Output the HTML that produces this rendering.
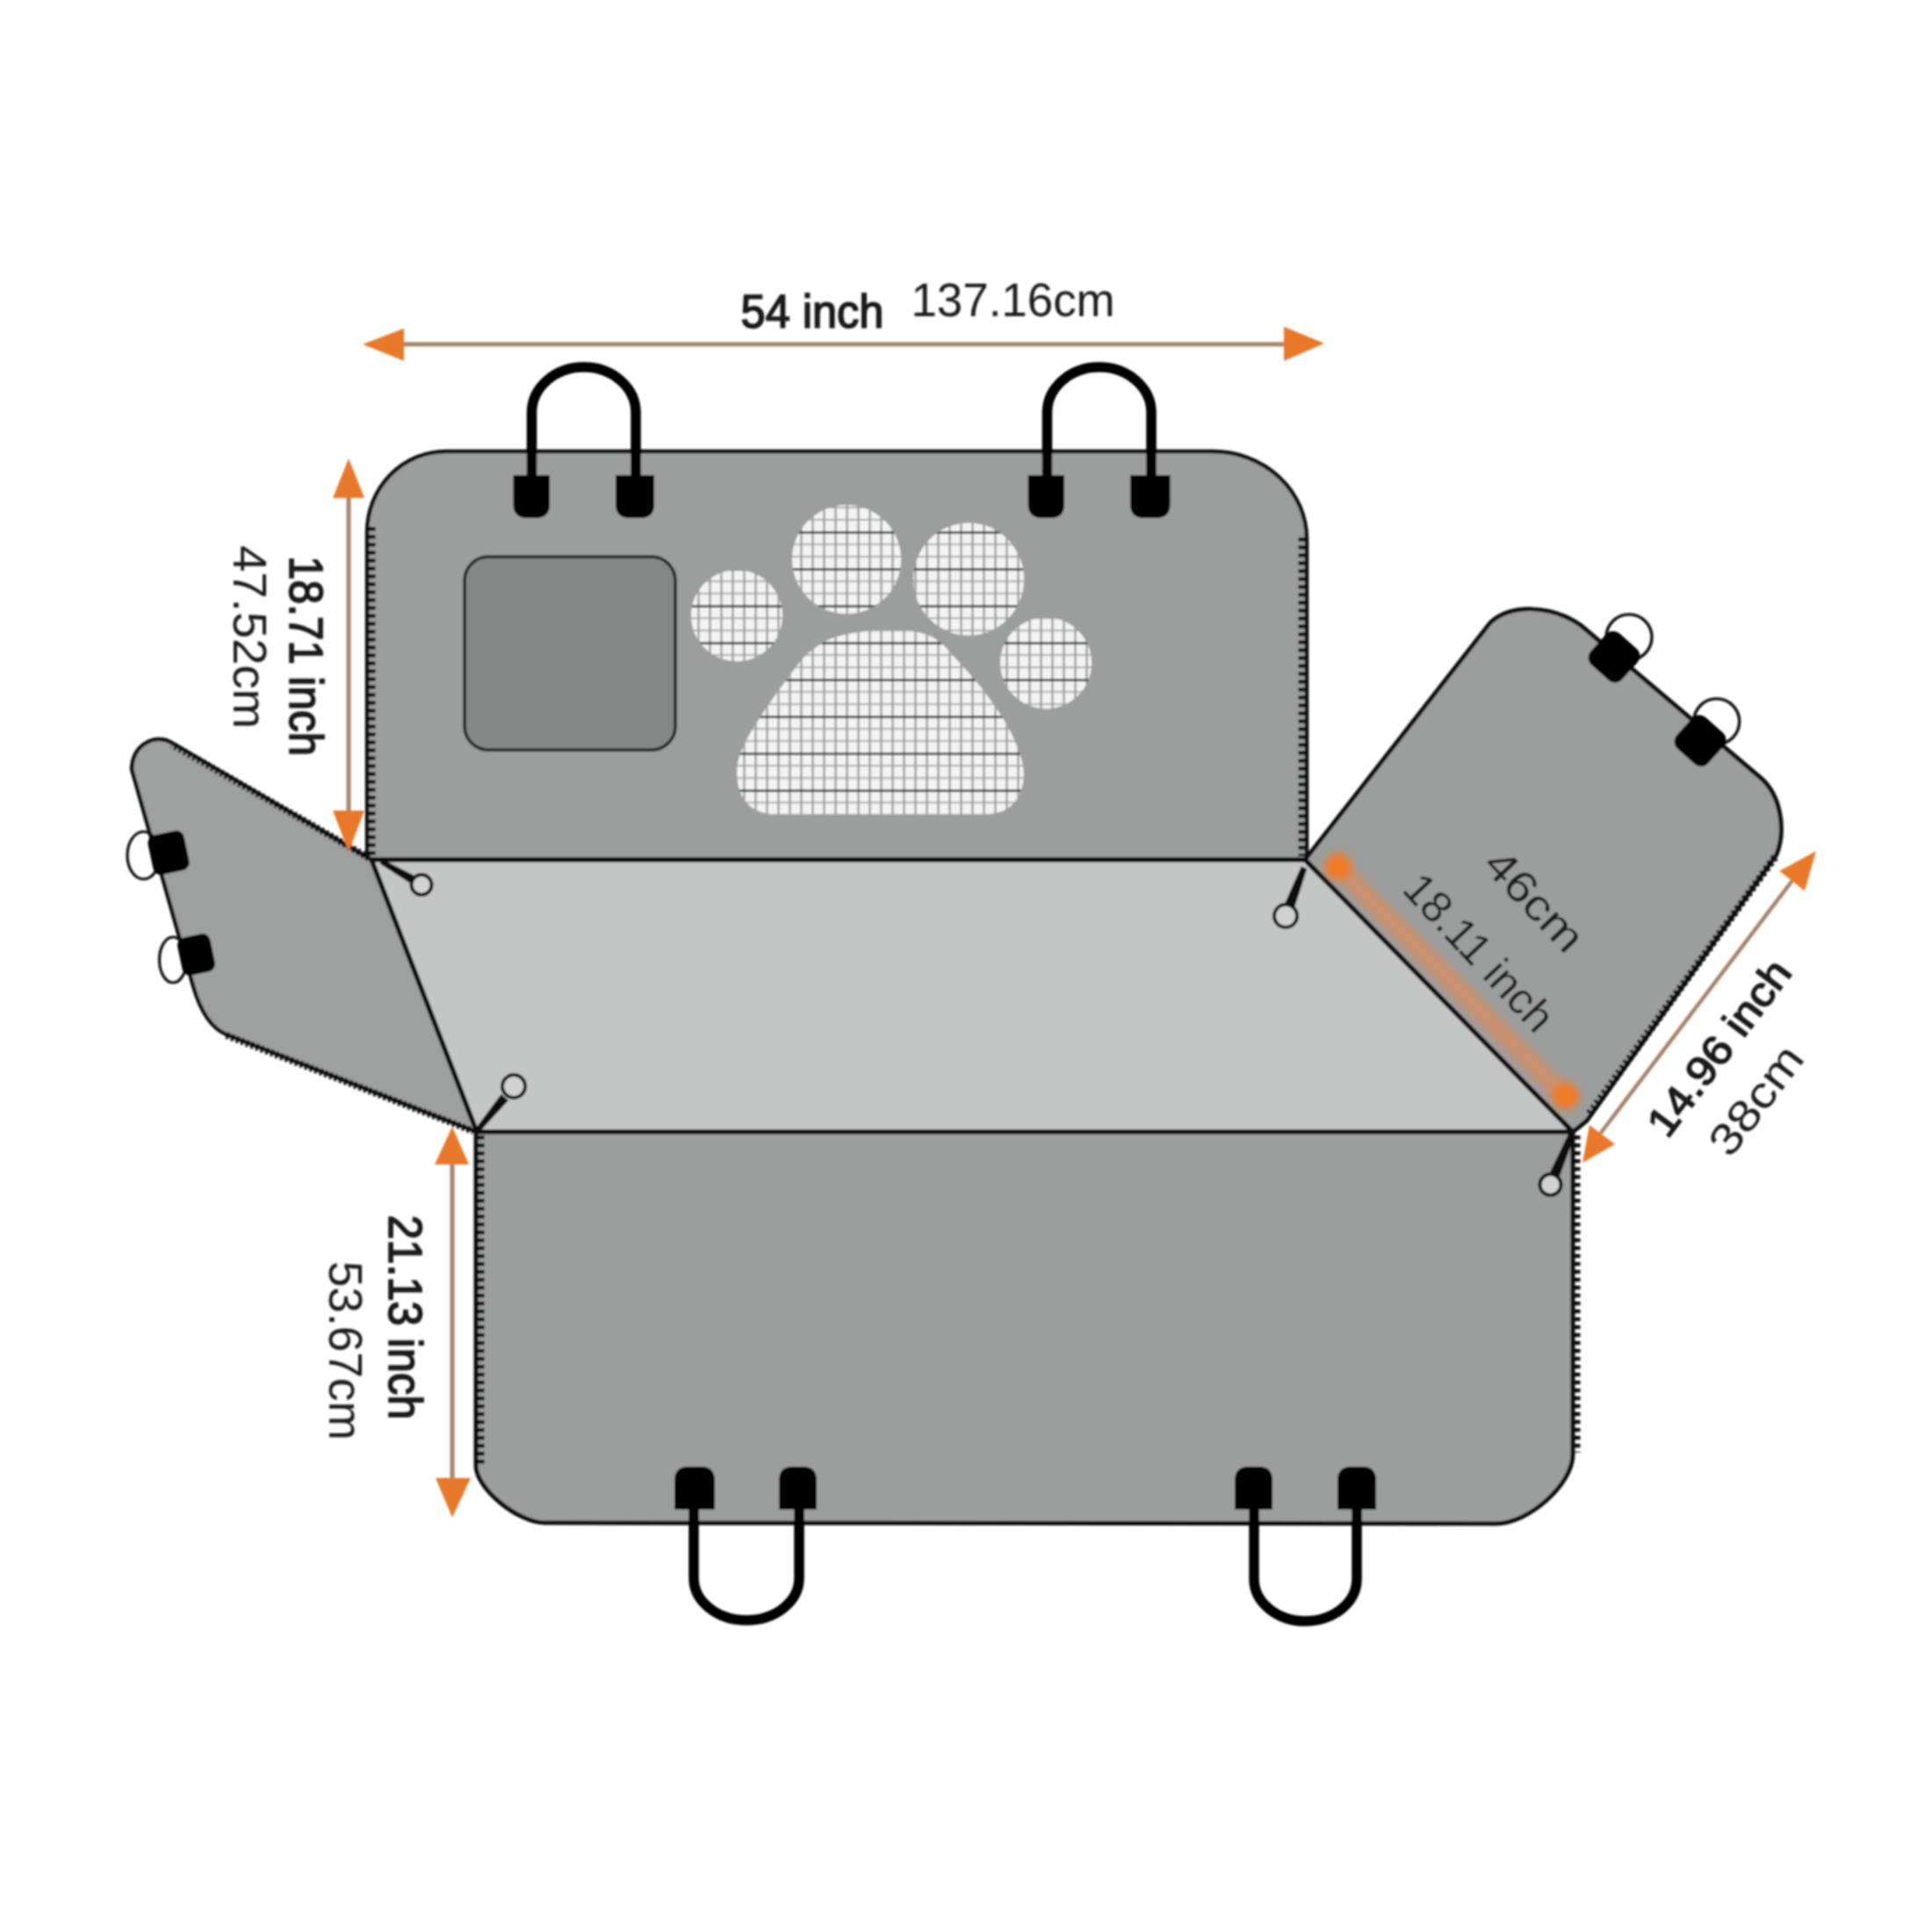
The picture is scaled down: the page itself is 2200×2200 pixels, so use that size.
<!DOCTYPE html>
<html><head><meta charset="utf-8">
<style>
html,body{margin:0;padding:0;background:#fff;}
body{width:2200px;height:2200px;overflow:hidden;}
svg{display:block;}
text{font-family:"Liberation Sans",sans-serif;fill:#1a1a1a;}
</style></head>
<body>
<svg width="2200" height="2200" viewBox="0 0 2200 2200">
<defs>
  <pattern id="mesh" patternUnits="userSpaceOnUse" x="885.6" y="563" width="13" height="42">
    <rect width="13" height="42" fill="#f3f3f3"/>
    <rect x="0" y="0" width="1.6" height="42" fill="#707070"/>
    <rect x="0" y="14" width="13" height="1.6" fill="#9a9a9a"/>
    <rect x="0" y="28" width="13" height="1.6" fill="#9a9a9a"/>
    <rect x="0" y="0" width="13" height="2.6" fill="#2e2e2e"/>
  </pattern>
  <filter id="blur2" x="-50%" y="-50%" width="200%" height="200%"><feGaussianBlur stdDeviation="4"/></filter>
  <filter id="soft" x="-10%" y="-10%" width="120%" height="120%"><feGaussianBlur stdDeviation="0.9"/></filter>
</defs>
<rect width="2200" height="2200" fill="#fff"/>
<g filter="url(#soft)">

<!-- top arrow -->
<line x1="455" y1="392" x2="1465" y2="392" stroke="#a6846a" stroke-width="5"/>
<polygon points="413,392 460,374 460,411" fill="#e8782a"/>
<polygon points="1508,391 1462,372 1462,411" fill="#e8782a"/>

<!-- top panel -->
<path d="M418 979 L418 606 A90 92 0 0 1 508 514 L1381 514 A107 100 0 0 1 1488 614 L1488 979 Z" fill="#9c9d9d" stroke="#111" stroke-width="4.5"/>

<!-- window -->
<rect x="529" y="634" width="240" height="220" rx="27" fill="#858686" stroke="#222" stroke-width="3.5"/>

<!-- paw -->
<g fill="url(#mesh)">
  <circle cx="839" cy="701" r="52"/>
  <circle cx="964" cy="637" r="62"/>
  <ellipse cx="1103" cy="659.5" rx="63" ry="64"/>
  <circle cx="1191" cy="755" r="52"/>
  <path d="M939 731 C955 720 1010 714 1041 719 C1058 722 1068 728 1075 735 L1103 766 C1120 785 1140 813 1148 828 C1162 855 1168 875 1165 890 C1162 912 1148 926 1125 927 L880 927 C858 926 843 913 840 890 C837 872 842 858 850 843 C862 820 885 788 909 756 C920 742 930 736 939 731 Z"/>
</g>

<!-- left flap -->
<path d="M423 979 L194 845 C178 836 151 846 150 876 L220 1123 Q233 1168 258 1178 L543 1289 Z" fill="#9e9f9f" stroke="#111" stroke-width="4.5" stroke-linejoin="round"/>

<!-- right flap -->
<path d="M1486 979 L1697 709 C1720 688 1765 688 1800 712 L2004 885 C2028 905 2034 945 2023 973 L1807 1276 L1791 1289 Z" fill="#9c9d9d" stroke="#111" stroke-width="5" stroke-linejoin="round"/>

<!-- middle -->
<path d="M423 979 L1486 979 L1791 1289 L543 1289 Z" fill="#c4c5c5" stroke="#111" stroke-width="5.5" stroke-linejoin="round"/>

<!-- bottom panel -->
<path d="M542 1289 L1791 1289 L1791 1656 C1791 1690 1741 1735 1703 1735 L621 1734 C589.6 1734 542 1695 542 1669 Z" fill="#9c9d9d" stroke="#111" stroke-width="5"/>

<!-- zipper teeth -->
<g fill="none" stroke="#111" stroke-width="9" stroke-dasharray="4.5 4.5">
  <path d="M423 600 L423 975"/>
  <path d="M1483 612 L1483 975"/>
  <path d="M547 1293 L547 1668"/>
  <path d="M1795 1293 L1795 1654"/>
  <path d="M420 977 L196 848" stroke-width="8" stroke-dasharray="3 3"/>
  <path d="M258 1179 L539 1288" stroke-width="8" stroke-dasharray="3 3"/>
  <path d="M2021 976 L1808 1271" stroke-width="9" stroke-dasharray="3.5 3.5"/>
</g>

<!-- orange fold band -->
<line x1="1517" y1="980" x2="1787" y2="1254" stroke="#e88a50" stroke-opacity="0.6" stroke-width="22" filter="url(#blur2)"/>
<g filter="url(#blur2)">
  <circle cx="1524" cy="987" r="15" fill="#f07a28"/>
  <circle cx="1783" cy="1248" r="15" fill="#f07a28"/>
</g>

<!-- handles top -->
<g fill="none" stroke="#000" stroke-width="11.5">
  <path d="M605.5 545 L605.5 470 A59.25 52 0 0 1 724 470 L724 545"/>
  <path d="M1192.4 545 L1192.4 470 A59.3 52 0 0 1 1311 470 L1311 545"/>
</g>
<g fill="#000">
  <path d="M584.5 541 H626 V574 Q626 590 610 590 H600.5 Q584.5 590 584.5 574 Z"/>
  <path d="M701 541 H745 V574 Q745 590 729 590 H717 Q701 590 701 574 Z"/>
  <path d="M1170.7 541 H1212 V574 Q1212 590 1196 590 H1186.7 Q1170.7 590 1170.7 574 Z"/>
  <path d="M1287 541 H1332.5 V574 Q1332.5 590 1316.5 590 H1303 Q1287 590 1287 574 Z"/>
</g>

<!-- handles bottom -->
<g fill="none" stroke="#000" stroke-width="11.5">
  <path d="M790 1715 L790 1797 A60 48 0 0 0 910 1797 L910 1715"/>
  <path d="M1428 1715 L1428 1798 A58.5 48 0 0 0 1545 1798 L1545 1715"/>
</g>
<g fill="#000">
  <path d="M768 1719 V1686 Q768 1670 784 1670 H798 Q814 1670 814 1686 V1719 Z"/>
  <path d="M887 1719 V1686 Q887 1670 903 1670 H914 Q930 1670 930 1686 V1719 Z"/>
  <path d="M1406 1719 V1686 Q1406 1670 1422 1670 H1433 Q1449 1670 1449 1686 V1719 Z"/>
  <path d="M1523 1719 V1686 Q1523 1670 1539 1670 H1551 Q1567 1670 1567 1686 V1719 Z"/>
</g>

<!-- left vertical arrows -->
<line x1="397" y1="560" x2="397" y2="930" stroke="#a6846a" stroke-width="5"/>
<polygon points="397,522 379,567 415,567" fill="#e8782a"/>
<polygon points="397,970 379,923 415,923" fill="#e8782a"/>
<line x1="515" y1="1320" x2="515" y2="1690" stroke="#a6846a" stroke-width="5"/>
<polygon points="515,1283 495,1326 534,1326" fill="#e8782a"/>
<polygon points="515,1728 496,1683 536,1683" fill="#e8782a"/>

<!-- right diagonal arrow -->
<line x1="2040.7" y1="1003" x2="1822.5" y2="1290.5" stroke="#a6846a" stroke-width="4.5"/>
<polygon points="2068,969 2026.4,991.8 2055,1014.5" fill="#e8782a"/>
<polygon points="1802,1324 1810,1281 1839,1303" fill="#e8782a"/>

<!-- left flap D-rings -->
<g fill="none" stroke="#111" stroke-width="3.2">
  <ellipse cx="163.5" cy="974" rx="18.5" ry="27"/>
  <ellipse cx="197" cy="1093" rx="15.5" ry="26"/>
</g>
<g fill="#000">
  <rect x="-21" y="-23" width="42" height="46" rx="9" transform="translate(192 971) rotate(-12)"/>
  <rect x="-19" y="-22" width="38" height="44" rx="9" transform="translate(223.5 1087) rotate(-12)"/>
</g>

<!-- right flap D-rings -->
<g fill="none" stroke="#111" stroke-width="3.4">
  <circle cx="1855" cy="725.6" r="26"/>
  <circle cx="1954.7" cy="821.6" r="26"/>
</g>
<g fill="#000">
  <rect x="-24" y="-24" width="48" height="48" rx="11" transform="translate(1838 748) rotate(42)"/>
  <rect x="-24" y="-24" width="48" height="48" rx="11" transform="translate(1936 843.5) rotate(42)"/>
</g>

<!-- zipper pulls -->
<g fill="#111">
  <path d="M435.5 978.4 L471.2 996.7 L466.2 1005.3 L432.5 983.6 Z"/>
  <path d="M540.7 1286.1 L570.6 1245.9 L579 1252.9 L545.3 1289.9 Z"/>
  <path d="M1481.7 986.8 L1488.3 989.2 L1474.6 1032.1 L1463.4 1027.9 Z"/>
  <path d="M1786.8 1289.6 L1793.2 1292.4 L1776 1339.3 L1765 1334.7 Z"/>
</g>
<g fill="#d2d2d2" stroke="#111" stroke-width="4">
  <circle cx="480" cy="1007.5" r="11.5"/>
  <circle cx="585" cy="1237" r="13"/>
  <circle cx="1464" cy="1043" r="13"/>
  <circle cx="1765.5" cy="1349" r="12"/>
</g>

<!-- texts -->
<text x="843.6" y="373.3" font-size="53" stroke="#1a1a1a" stroke-width="1.7" textLength="162.7" lengthAdjust="spacingAndGlyphs">54 inch</text>
<text x="1037.4" y="359.6" font-size="54" textLength="232.3" lengthAdjust="spacingAndGlyphs">137.16cm</text>
<text transform="translate(330 633) rotate(90)" font-size="53" stroke="#1a1a1a" stroke-width="1.7" textLength="228" lengthAdjust="spacingAndGlyphs">18.71 inch</text>
<text transform="translate(266 621) rotate(90)" font-size="53" textLength="209" lengthAdjust="spacingAndGlyphs">47.52cm</text>
<text transform="translate(443 1383.5) rotate(90)" font-size="53" stroke="#1a1a1a" stroke-width="1.7" textLength="233" lengthAdjust="spacingAndGlyphs">21.13 inch</text>
<text transform="translate(375 1436) rotate(90)" font-size="53" textLength="204" lengthAdjust="spacingAndGlyphs">53.67cm</text>
<text transform="translate(1748 1025) rotate(46.5)" font-size="50" text-anchor="middle" dy="18" textLength="140" lengthAdjust="spacingAndGlyphs">46cm</text>
<text transform="translate(1685 1084) rotate(47)" font-size="50" text-anchor="middle" dy="18" textLength="225" lengthAdjust="spacingAndGlyphs">18.11 inch</text>
<text transform="translate(1956 1192) rotate(-53)" font-size="47" stroke="#1a1a1a" stroke-width="1.6" text-anchor="middle" dy="18" textLength="238" lengthAdjust="spacingAndGlyphs">14.96 inch</text>
<text transform="translate(1999 1252) rotate(-53)" font-size="50" text-anchor="middle" dy="18" textLength="143" lengthAdjust="spacingAndGlyphs">38cm</text>
</g>
</svg>
</body></html>
